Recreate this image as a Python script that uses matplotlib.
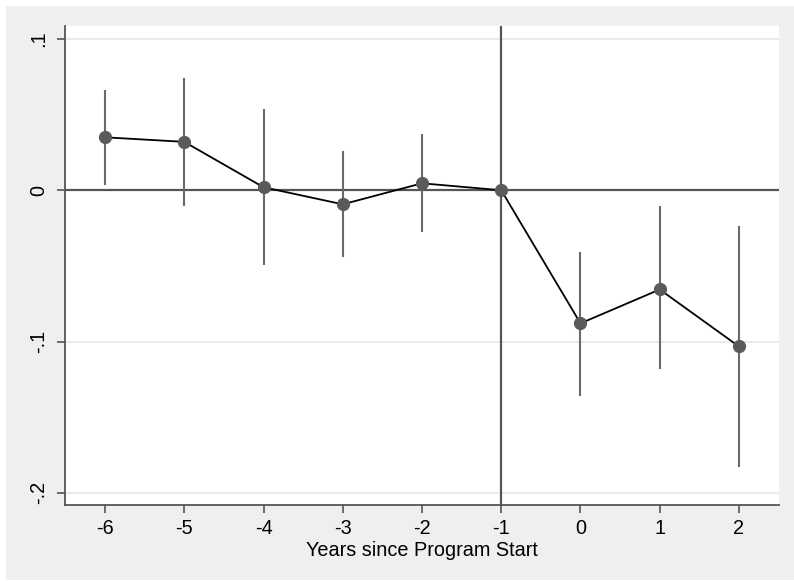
import matplotlib.pyplot as plt
from matplotlib.patches import Rectangle

years = [-6, -5, -4, -3, -2, -1, 0, 1, 2]
coef = [0.035, 0.032, 0.002, -0.0093, 0.0046, 0.0, -0.088, -0.0656, -0.1033]
ci_upper = [0.0662, 0.0742, 0.0536, 0.0258, 0.0371, 0.0, -0.041, -0.0106, -0.0238]
ci_lower = [0.0033, -0.0106, -0.0497, -0.0444, -0.0278, 0.0, -0.1358, -0.1185, -0.1828]
y_ticks = [0.1, 0, -0.1, -0.2]
y_tick_labels = ['.1', '0', '-.1', '-.2']

plt.rcParams['font.family'] = ['Liberation Sans', 'DejaVu Sans']

fig = plt.figure(figsize=(7.94, 5.81), dpi=100, facecolor='white')
fig.patches.append(Rectangle((6 / 794, 1 / 581), 788 / 794, 574 / 581, transform=fig.transFigure,
                             facecolor='#efefef', edgecolor='none', zorder=-10))
ax = fig.add_axes([65 / 794, 76 / 581, 714 / 794, 479 / 581])
ax.set_facecolor('white')

ax.set_xlim(-6.505, 2.505)
ax.set_ylim(-0.2081, 0.1086)

for t in y_ticks:
    ax.axhline(t, color='#e6e6e6', lw=1.2, zorder=0)
ax.axhline(0, color='#555555', lw=1.6, zorder=1)
ax.axvline(-1, color='#555555', lw=1.6, zorder=1)

ax.vlines(years, ci_lower, ci_upper, color='#6a6a6a', lw=1.5, zorder=2)
ax.plot(years, coef, color='black', lw=1.3, zorder=3)
ax.plot(years, coef, 'o', color='#5a5a5a', markersize=8.5, zorder=4)

for side in ['top', 'right']:
    ax.spines[side].set_visible(False)
for side in ['left', 'bottom']:
    ax.spines[side].set_color('#555555')
    ax.spines[side].set_linewidth(1.3)

ax.set_xticks(years)
ax.set_xticklabels([str(y) for y in years])
ax.set_yticks(y_ticks)
ax.set_yticklabels(y_tick_labels, rotation=90, va='center')
ax.tick_params(axis='both', colors='#555555', labelcolor='black', labelsize=14.3,
               length=6, width=1.2)
ax.tick_params(axis='x', pad=4)
ax.tick_params(axis='y', pad=6)
ax.set_xlabel('Years since Program Start', fontsize=14.3, labelpad=2)

fig.savefig('out.png', dpi=100, facecolor=fig.get_facecolor())
